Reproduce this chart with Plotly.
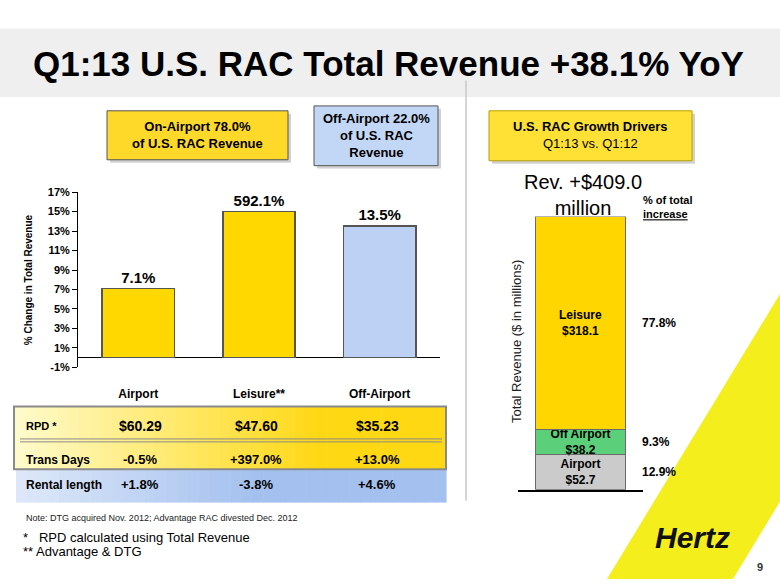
import plotly.graph_objects as go

# ---------------- data ----------------
seg_categories = ["Airport", "Leisure**", "Off-Airport"]
seg_change_pct = [7.1, 592.1, 13.5]          # % change in total revenue
axis_cap_pct = 15.0                            # off-scale bars drawn to this height
seg_colors = ["#FFD800", "#FFD800", "#BCD1F3"]

y_ticks = [-1, 1, 3, 5, 7, 9, 11, 13, 15, 17]

table_labels = ["RPD *", "Trans Days", "Rental length"]
rpd_values = ["$60.29", "$47.60", "$35.23"]
trans_days = ["-0.5%", "+397.0%", "+13.0%"]
rental_length = ["+1.8%", "-3.8%", "+4.6%"]

driver_names = ["Airport", "Off Airport", "Leisure"]
driver_values = [52.7, 38.2, 318.1]           # $ millions
driver_share = ["12.9%", "9.3%", "77.8%"]
driver_colors = ["#CBCBCB", "#5CCF7A", "#FFD600"]
total_increase = 409.0

W, H = 780, 585
FONT = "Liberation Sans, Arial, sans-serif"


def fx(x):
    return x / W


def fy(y):
    return 1 - y / H


shapes = []
annotations = []


def rect(x0, y0, x1, y1, fill, line=None, lw=1, layer="below"):
    shapes.append(dict(type="rect", xref="paper", yref="paper",
                       x0=fx(x0), x1=fx(x1), y0=fy(y1), y1=fy(y0),
                       fillcolor=fill, layer=layer,
                       line=dict(color=line or "rgba(0,0,0,0)", width=lw if line else 0)))


def hline(x0, x1, y, color, lw=1):
    shapes.append(dict(type="line", xref="paper", yref="paper",
                       x0=fx(x0), x1=fx(x1), y0=fy(y), y1=fy(y),
                       line=dict(color=color, width=lw), layer="below"))


def text(x, y, s, size=12, color="black", bold=False, xanchor="center", align="center", angle=0, italic=False):
    annotations.append(dict(xref="paper", yref="paper", x=fx(x), y=fy(y), text=s,
                            showarrow=False, xanchor=xanchor, yanchor="middle", align=align,
                            textangle=angle,
                            font=dict(family=FONT, size=size, color=color,
                                      weight="bold" if bold else "normal",
                                      style="italic" if italic else "normal")))


def lerp(c0, c1, t):
    return "rgb(%d,%d,%d)" % tuple(round(a + (b - a) * t) for a, b in zip(c0, c1))


def gradient_h(x0, y0, x1, y1, c0, c1, x_full, n=40):
    step = (x1 - x0) / n
    for i in range(n):
        xa = x0 + i * step
        t = min(1.0, max(0.0, (xa + step / 2 - x0) / (x_full - x0)))
        rect(xa, y0, xa + step + 0.6, y1, lerp(c0, c1, t))


# ---------------- background / title ----------------
rect(0, 23, 780, 93, "#EFEFEF")
text(388, 59, "Q1:13 U.S. RAC Total Revenue +38.1% YoY", size=35, bold=True)
shapes.append(dict(type="line", xref="paper", yref="paper", x0=fx(466), x1=fx(466),
                   y0=fy(505), y1=fy(76), line=dict(color="#C8C8C8", width=1.5), layer="below"))

# Hertz stripe
shapes.append(dict(type="path", xref="paper", yref="paper",
                   path="M %f %f L %f %f L %f %f L %f %f Z" % (fx(607), fy(585), fx(733), fy(585),
                                                                fx(780), fy(506), fx(780), fy(294)),
                   fillcolor="#F4EE1C", line=dict(width=0), layer="below"))
text(692, 543, "Hertz", size=30, bold=True, italic=True, color="#111111")
text(760, 573, "9", size=11, bold=True, color="#333333")

# ---------------- header boxes ----------------
rect(110, 110, 291, 160, "rgba(0,0,0,0.18)")
rect(107, 107, 288, 157, "#FFD92A", "#555555", 1)
text(197, 132, "On-Airport 78.0%<br>of U.S. RAC Revenue", size=13, bold=True)

rect(317, 105, 441, 166, "rgba(0,0,0,0.18)")
rect(314, 102, 438, 163, "#C2D6F5", "#555555", 1)
text(376, 132, "Off-Airport 22.0%<br>of U.S. RAC<br>Revenue", size=13, bold=True)

rect(492, 110, 695, 161, "rgba(0,0,0,0.18)")
rect(489, 107, 692, 158, "#FFE135", "#B8A000", 1)
text(590, 132, "<b>U.S. RAC Growth Drivers</b><br>Q1:13 vs. Q1:12", size=13)

# ---------------- table ----------------
gradient_h(14, 409, 446, 473, (255, 251, 205), (255, 216, 20), 320)
gradient_h(16, 473, 446, 507, (222, 232, 249), (163, 192, 238), 260)
shapes.append(dict(type="rect", xref="paper", yref="paper", x0=fx(14), x1=fx(446),
                   y0=fy(473), y1=fy(409), line=dict(color="#8A8A8A", width=2),
                   fillcolor="rgba(0,0,0,0)", layer="below"))
hline(20, 442, 442, "#8A8A8A", 1)
hline(20, 442, 445, "#8A8A8A", 1)

col_x = [140, 256, 377]
row_y = [429, 463, 489]
label_sizes = [11, 12, 12]
value_sizes = [14, 13, 13]
for r, (lab, vals) in enumerate(zip(table_labels, [rpd_values, trans_days, rental_length])):
    text(24, row_y[r], lab, size=label_sizes[r], bold=True, xanchor="left")
    for c, v in enumerate(vals):
        text(col_x[c], row_y[r], v, size=value_sizes[r], bold=True)

text(24, 523, "Note: DTG acquired Nov. 2012; Advantage RAC divested Dec. 2012", size=9,
     xanchor="left", color="#222222")
text(21, 543, "*   RPD calculated using Total Revenue", size=13, xanchor="left")
text(21, 557, "** Advantage &amp; DTG", size=13, xanchor="left")

# ---------------- left chart ----------------
shown = [min(v, axis_cap_pct) for v in seg_change_pct]
fig = go.Figure()
fig.add_trace(go.Bar(
    x=seg_categories, y=shown, width=0.6,
    marker=dict(color=seg_colors, line=dict(color="#555555", width=1.5)),
    text=[f"{v}%" for v in seg_change_pct], textposition="outside",
    textfont=dict(family=FONT, size=15, color="black", weight="bold"),
    cliponaxis=False, xaxis="x", yaxis="y", showlegend=False, hoverinfo="skip"))

text(28, 280, "% Change in Total Revenue", size=10, bold=True, angle=-90)

# ---------------- right chart ----------------
for name, val, col in zip(driver_names, driver_values, driver_colors):
    fig.add_trace(go.Bar(
        x=["Q1:13"], y=[val], width=0.72, name=name,
        marker=dict(color=col, line=dict(color="#6B6B6B", width=1)),
        text=[f"{name}<br>${val}"], textposition="inside", insidetextanchor="middle",
        constraintext="none",
        textfont=dict(family=FONT, size=12, color="black", weight="bold"),
        xaxis="x2", yaxis="y2", showlegend=False, hoverinfo="skip"))

cum = 0
for val, share in zip(driver_values, driver_share):
    annotations.append(dict(xref="paper", yref="y2", x=fx(640), y=cum + val / 2, text=share,
                            showarrow=False, xanchor="left", yanchor="middle",
                            font=dict(family=FONT, size=12, color="black", weight="bold")))
    cum += val

text(583, 193, f"Rev. +${total_increase:.1f}<br>million", size=20)
text(641, 205, "% of total<br><u>increase</u>", size=11, bold=True, xanchor="left", align="left")
text(517, 343, "Total Revenue ($ in millions)", size=13, angle=-90, color="#222222")

fig.update_layout(
    width=W, height=H, margin=dict(l=0, r=0, t=0, b=0),
    paper_bgcolor="white", plot_bgcolor="rgba(0,0,0,0)",
    barmode="stack",
    font=dict(family=FONT, color="black"),
    xaxis=dict(domain=[fx(78), fx(440)], anchor="y", type="category",
               showline=False, ticks="", showgrid=False, zeroline=False,
               tickfont=dict(family=FONT, size=12, weight="bold"), ticklabelstandoff=18),
    yaxis=dict(domain=[fy(369), fy(190)], anchor="x", range=[-1, 17],
               tickvals=y_ticks, ticktext=[f"{v}%" for v in y_ticks],
               showline=True, linecolor="black", linewidth=1, ticks="outside", ticklen=5,
               tickcolor="black", showgrid=False, zeroline=True, zerolinecolor="black",
               zerolinewidth=1.2, tickfont=dict(family=FONT, size=11, weight="bold")),
    xaxis2=dict(domain=[fx(518), fx(643)], anchor="y2", type="category",
                showline=True, linecolor="black", linewidth=2, showticklabels=False,
                ticks="", showgrid=False, zeroline=False),
    yaxis2=dict(domain=[fy(494), fy(215)], anchor="x2", range=[0, total_increase],
                visible=False),
    shapes=shapes, annotations=annotations,
)

fig.write_html("out.html", config={"displayModeBar": False},
               post_script="document.body.style.margin='0';")
